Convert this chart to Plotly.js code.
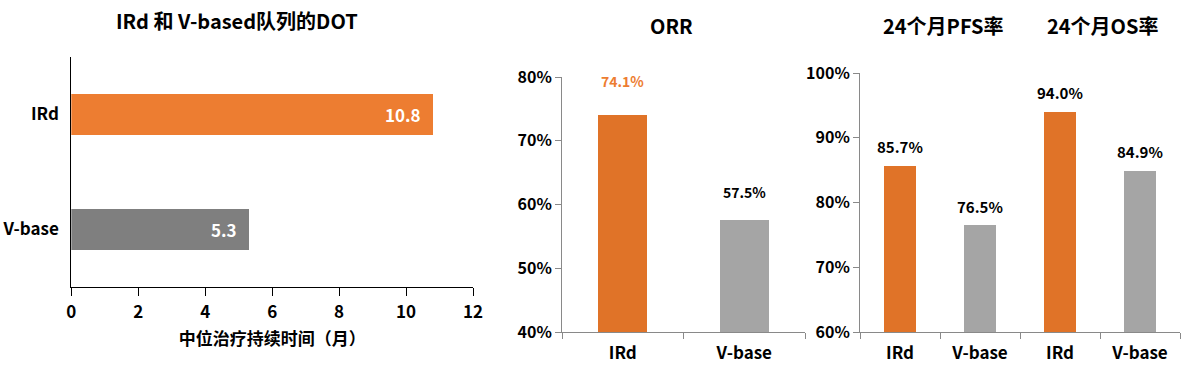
<!DOCTYPE html>
<html>
<head>
<meta charset="utf-8">
<script src="https://cdn.plot.ly/plotly-3.0.1.min.js"></script>
<style>html,body{margin:0;padding:0;background:#fff;}#chart{width:1196px;height:367px;}</style>
</head>
<body>
<div id="chart"></div>
<script>
// ---- data ----
const dotArms = ['IRd', 'V-base'];
const dotValues = [10.8, 5.3];
const dotTitle = 'IRd 和 V-based队列的DOT';
const dotAxisTitle = '中位治疗持续时间（月）';

const orrArms = ['IRd', 'V-base'];
const orrValues = [74.1, 57.5];
const orrTitle = 'ORR';

const survKeys = ['PFS|IRd', 'PFS|V-base', 'OS|IRd', 'OS|V-base'];
const survArms = ['IRd', 'V-base', 'IRd', 'V-base'];
const survValues = [85.7, 76.5, 94.0, 84.9];
const pfsTitle = '24个月PFS率';
const osTitle = '24个月OS率';

// ---- style ----
const W = 1196, H = 367;
const FONT = '"Noto Sans CJK SC", "Noto Sans", sans-serif';
const ORANGE_L = '#ED7D31', GRAY_L = '#7F7F7F';
const ORANGE = '#E07328', GRAY = '#A5A5A5';
const AXIS_GRAY = '#898989';
const fx = p => p / W;
const fy = p => 1 - p / H;

const traces = [
  {
    type: 'bar', orientation: 'h', y: dotArms, x: dotValues,
    marker: {color: [ORANGE_L, GRAY_L]}, width: 0.357,
    xaxis: 'x', yaxis: 'y', hoverinfo: 'none'
  },
  {
    type: 'bar', x: orrArms, y: orrValues,
    marker: {color: [ORANGE, GRAY]}, width: 0.40,
    xaxis: 'x2', yaxis: 'y2', hoverinfo: 'none'
  },
  {
    type: 'bar', x: survKeys, y: survValues,
    marker: {color: [ORANGE, GRAY, ORANGE, GRAY]}, width: 0.40,
    xaxis: 'x3', yaxis: 'y3', hoverinfo: 'none'
  }
];

const annotations = [];
function title(text, xpx, ypx) {
  annotations.push({text, xref: 'paper', yref: 'paper', x: fx(xpx), y: fy(ypx),
    xanchor: 'center', yanchor: 'middle', showarrow: false,
    font: {family: FONT, size: 20, color: '#000', weight: 700}});
}
title(dotTitle, 237, 20);
title(orrTitle, 671, 25);
title(pfsTitle, 943, 25);
title(osTitle, 1102, 25);

dotArms.forEach((a, i) => annotations.push({
  text: dotValues[i].toFixed(1), x: dotValues[i], y: a, xref: 'x', yref: 'y',
  xanchor: 'right', yanchor: 'middle', xshift: -10, showarrow: false,
  font: {family: FONT, size: 17, color: '#fff', weight: 700}
}));
const orrShift = [34, 28];
orrArms.forEach((a, i) => annotations.push({
  text: orrValues[i].toFixed(1) + '%', x: a, y: orrValues[i], xref: 'x2', yref: 'y2',
  xanchor: 'center', yanchor: 'middle', yshift: orrShift[i], showarrow: false,
  font: {family: FONT, size: 14, color: i === 0 ? ORANGE_L : '#000', weight: 700}
}));
survKeys.forEach((k, i) => annotations.push({
  text: survValues[i].toFixed(1) + '%', x: k, y: survValues[i], xref: 'x3', yref: 'y3',
  xanchor: 'center', yanchor: 'middle', yshift: 19, showarrow: false,
  font: {family: FONT, size: 15, color: '#000', weight: 700}
}));

const tickFont = (s) => ({family: FONT, size: s, color: '#000', weight: 700});

const layout = {
  width: W, height: H,
  margin: {l: 0, r: 0, t: 0, b: 0},
  paper_bgcolor: '#fff', plot_bgcolor: 'rgba(0,0,0,0)',
  showlegend: false,
  bargap: 0,
  annotations,
  // left chart
  xaxis: {
    domain: [fx(71.3), fx(473)], anchor: 'y', range: [0, 12], dtick: 2, tick0: 0,
    showgrid: false, zeroline: false, showline: true, linecolor: '#000', linewidth: 1,
    ticks: 'outside', ticklen: 8, tickcolor: '#000', tickfont: tickFont(17), ticklabelstandoff: 2,
    title: {text: dotAxisTitle, font: tickFont(17), standoff: 10}, fixedrange: true
  },
  yaxis: {
    domain: [fy(287), fy(57)], anchor: 'x', type: 'category',
    categoryorder: 'array', categoryarray: dotArms, autorange: 'reversed',
    showgrid: false, zeroline: false, showline: true, linecolor: '#000', linewidth: 1,
    ticks: '', tickfont: tickFont(17), ticklabelstandoff: 8, fixedrange: true
  },
  // middle chart
  xaxis2: {
    domain: [fx(562), fx(805)], anchor: 'y2', type: 'category',
    showgrid: false, zeroline: false, showline: true, linecolor: AXIS_GRAY, linewidth: 1,
    ticks: 'outside', tickson: 'boundaries', ticklen: 6, tickcolor: AXIS_GRAY,
    tickfont: tickFont(17), ticklabelstandoff: 6, fixedrange: true
  },
  yaxis2: {
    domain: [fy(332), fy(77)], anchor: 'x2', range: [40, 80], dtick: 10, ticksuffix: '%',
    showgrid: false, zeroline: false, showline: true, linecolor: AXIS_GRAY, linewidth: 1,
    ticks: 'outside', ticklen: 6, tickcolor: AXIS_GRAY, tickfont: tickFont(16), fixedrange: true
  },
  // right chart
  xaxis3: {
    domain: [fx(860), fx(1180)], anchor: 'y3', type: 'category',
    tickvals: survKeys, ticktext: survArms,
    showgrid: false, zeroline: false, showline: true, linecolor: AXIS_GRAY, linewidth: 1,
    ticks: 'outside', tickson: 'boundaries', ticklen: 6, tickcolor: AXIS_GRAY,
    tickfont: tickFont(17), ticklabelstandoff: 6, fixedrange: true
  },
  yaxis3: {
    domain: [fy(332), fy(73)], anchor: 'x3', range: [60, 100], dtick: 10, ticksuffix: '%',
    showgrid: false, zeroline: false, showline: true, linecolor: AXIS_GRAY, linewidth: 1,
    ticks: 'outside', ticklen: 6, tickcolor: AXIS_GRAY, tickfont: tickFont(16), fixedrange: true
  }
};

Plotly.newPlot('chart', traces, layout, {displayModeBar: false, staticPlot: true});
</script>
</body>
</html>
